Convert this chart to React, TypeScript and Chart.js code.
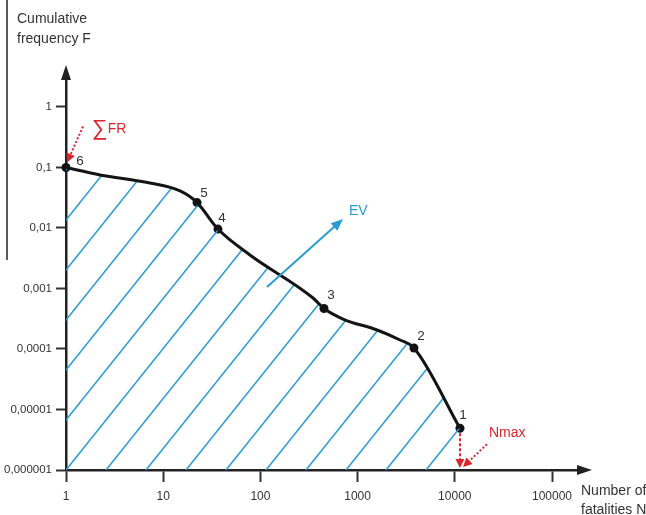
import React, { useEffect, useRef } from "react";
import { Chart, registerables } from "chart.js";

Chart.register(...registerables);

// Curve of the F-N diagram
const curveN = [1, 2.24, 7.3, 14.9, 22.3, 36.6, 78, 348, 451, 707, 1585, 2730, 3800, 11300];
const curveF = [0.1, 0.0752, 0.0554, 0.0409, 0.0263, 0.0096, 0.00358, 0.000697, 0.000466, 0.000313, 0.000206, 0.000141, 0.000104, 0.0000049];

// Numbered points
const pointLabels = ["6", "5", "4", "3", "2", "1"];
const pointN = [1, 22.3, 36.6, 451, 3800, 11300];
const pointF = [0.1, 0.0263, 0.0096, 0.000466, 0.000104, 0.0000049];

// Axis ticks
const xTickValues = [1, 10, 100, 1000, 10000, 100000];
const xTickLabels = ["1", "10", "100", "1000", "10000", "100000"];
const yTickValues = [1, 0.1, 0.01, 0.001, 0.0001, 0.00001, 0.000001];
const yTickLabels = ["1", "0,1", "0,01", "0,001", "0,0001", "0,00001", "0,000001"];

const yTitle = ["Cumulative", "frequency F"];
const xTitle = ["Number of", "fatalities N"];

const FONT = "'Liberation Sans', Arial, sans-serif";
const BLUE = "#2a9bd3";
const RED = "#d8262c";
const DARK = "#333333";

function makeHatch(): CanvasPattern | string {
  const c = document.createElement("canvas");
  c.width = 40;
  c.height = 50;
  const g = c.getContext("2d");
  if (!g) return "transparent";
  g.strokeStyle = BLUE;
  g.lineWidth = 1.5;
  for (let k = -1; k <= 3; k++) {
    const cc = 2.5 + 50 * k;
    g.beginPath();
    g.moveTo(-5, cc + 1.25 * 5);
    g.lineTo(45, cc - 1.25 * 45);
    g.stroke();
  }
  const p = g.createPattern(c, "repeat");
  return p || "transparent";
}

function arrowHead(ctx: CanvasRenderingContext2D, fx: number, fy: number, tx: number, ty: number, len: number, hw: number, color: string) {
  const a = Math.atan2(ty - fy, tx - fx);
  const ux = Math.cos(a), uy = Math.sin(a);
  const bx = tx - ux * len, by = ty - uy * len;
  ctx.save();
  ctx.fillStyle = color;
  ctx.beginPath();
  ctx.moveTo(tx, ty);
  ctx.lineTo(bx - uy * hw, by + ux * hw);
  ctx.lineTo(bx + uy * hw, by - ux * hw);
  ctx.closePath();
  ctx.fill();
  ctx.restore();
}

function arrow(ctx: CanvasRenderingContext2D, fx: number, fy: number, tx: number, ty: number, color: string, width: number, dash: number[], len: number, hw: number) {
  const a = Math.atan2(ty - fy, tx - fx);
  const ex = tx - Math.cos(a) * (len - 1);
  const ey = ty - Math.sin(a) * (len - 1);
  ctx.save();
  ctx.strokeStyle = color;
  ctx.lineWidth = width;
  ctx.setLineDash(dash);
  ctx.beginPath();
  ctx.moveTo(fx, fy);
  ctx.lineTo(ex, ey);
  ctx.stroke();
  ctx.restore();
  arrowHead(ctx, fx, fy, tx, ty, len, hw, color);
}

const annotations = {
  id: "fnAnnotations",
  afterDraw(chart: any) {
    const ctx: CanvasRenderingContext2D = chart.ctx;
    const xs = chart.scales.x;
    const ys = chart.scales.y;
    const area = chart.chartArea;

    // axis arrows
    arrowHead(ctx, area.left, area.bottom, area.left, area.top - 13, 15, 5, "#222");
    arrowHead(ctx, area.left, area.bottom, area.right + 12, area.bottom, 15, 5, "#222");

    // stray frame line at left
    ctx.save();
    ctx.strokeStyle = "#222";
    ctx.lineWidth = 1.5;
    ctx.beginPath();
    ctx.moveTo(7, 0);
    ctx.lineTo(7, 260);
    ctx.stroke();
    ctx.restore();

    // axis titles
    ctx.save();
    ctx.fillStyle = DARK;
    ctx.font = `14px ${FONT}`;
    ctx.textAlign = "left";
    ctx.textBaseline = "alphabetic";
    ctx.fillText(yTitle[0], 17, 23);
    ctx.fillText(yTitle[1], 17, 43);
    ctx.fillText(xTitle[0], 581, 495);
    ctx.fillText(xTitle[1], 581, 514);
    ctx.restore();

    // point labels
    const offs = [[14, -6], [7, -9], [4, -11], [7, -13], [7, -12], [3, -13]];
    ctx.save();
    ctx.fillStyle = DARK;
    ctx.font = `13.5px ${FONT}`;
    ctx.textAlign = "center";
    ctx.textBaseline = "middle";
    pointLabels.forEach((lab, i) => {
      const px = xs.getPixelForValue(pointN[i]);
      const py = ys.getPixelForValue(pointF[i]);
      ctx.fillText(lab, px + offs[i][0], py + offs[i][1]);
    });
    ctx.restore();

    // ΣFR annotation
    const p6x = xs.getPixelForValue(pointN[0]);
    const p6y = ys.getPixelForValue(pointF[0]);
    arrow(ctx, p6x + 17, p6y - 41, p6x + 1, p6y - 5, RED, 2, [2, 2], 9, 4.5);
    ctx.save();
    ctx.fillStyle = RED;
    ctx.textAlign = "left";
    ctx.textBaseline = "alphabetic";
    ctx.font = `22px ${FONT}`;
    const sig = "\u2211";
    ctx.fillText(sig, p6x + 26, p6y - 32);
    const sw = ctx.measureText(sig).width;
    ctx.font = `14px ${FONT}`;
    ctx.fillText("FR", p6x + 26 + sw, p6y - 34);
    ctx.restore();

    // EV arrow
    arrow(ctx, 267, 287, 343, 219, BLUE, 2, [], 12, 5);
    ctx.save();
    ctx.fillStyle = BLUE;
    ctx.font = `14px ${FONT}`;
    ctx.textAlign = "left";
    ctx.textBaseline = "middle";
    ctx.fillText("EV", 349, 211);
    ctx.restore();

    // Nmax annotation
    const p1x = xs.getPixelForValue(pointN[5]);
    const p1y = ys.getPixelForValue(pointF[5]);
    arrow(ctx, p1x, p1y + 5, p1x, area.bottom - 2, RED, 2, [3, 2], 9, 4.5);
    arrow(ctx, p1x + 27, p1y + 16, p1x + 3, area.bottom - 3, RED, 2, [2, 2], 9, 4.5);
    ctx.save();
    ctx.fillStyle = RED;
    ctx.font = `14px ${FONT}`;
    ctx.textAlign = "left";
    ctx.textBaseline = "middle";
    ctx.fillText("Nmax", p1x + 29, p1y + 5);
    ctx.restore();
  },
};

export default function App() {
  const ref = useRef<HTMLCanvasElement | null>(null);

  useEffect(() => {
    if (!ref.current) return;
    const hatch = makeHatch();
    const chart = new Chart(ref.current, {
      type: "line",
      data: {
        datasets: [
          {
            data: curveN.map((n, i) => ({ x: n, y: curveF[i] })),
            borderColor: "#141414",
            borderWidth: 3,
            pointRadius: 0,
            cubicInterpolationMode: "monotone",
            fill: "start",
            backgroundColor: hatch as any,
          },
          {
            data: pointN.map((n, i) => ({ x: n, y: pointF[i] })),
            showLine: false,
            pointRadius: 4.5,
            pointBackgroundColor: "#111",
            pointBorderColor: "#111",
            pointBorderWidth: 0,
            clip: false as any,
          },
        ],
      },
      options: {
        responsive: false,
        animation: false,
        events: [],
        layout: { padding: { top: 78, right: 66, left: 0, bottom: 0 } },
        plugins: { legend: { display: false }, tooltip: { enabled: false } },
        scales: {
          x: {
            type: "logarithmic",
            min: 1,
            max: Math.pow(10, 5.288),
            afterBuildTicks: (s: any) => {
              s.ticks = xTickValues.map((v) => ({ value: v }));
            },
            afterFit: (s: any) => {
              s.height = 45;
            },
            ticks: {
              autoSkip: false,
              maxRotation: 0,
              padding: 7,
              color: DARK,
              font: { size: 12, family: FONT },
              callback: (_v: any, i: number) => xTickLabels[i],
            },
            grid: {
              display: true,
              drawOnChartArea: false,
              drawTicks: true,
              tickLength: 12,
              tickColor: "#333",
              tickWidth: 2,
            },
            border: { display: true, color: "#222", width: 2.5 },
          },
          y: {
            type: "logarithmic",
            min: 0.000001,
            max: Math.pow(10, 0.479),
            afterBuildTicks: (s: any) => {
              s.ticks = yTickValues.map((v) => ({ value: v }));
            },
            afterFit: (s: any) => {
              s.width = 66;
            },
            ticks: {
              autoSkip: false,
              padding: 4,
              color: DARK,
              font: { size: 11.5, family: FONT },
              callback: (_v: any, i: number) => yTickLabels[i],
            },
            grid: {
              display: true,
              drawOnChartArea: false,
              drawTicks: true,
              tickLength: 10,
              tickColor: "#333",
              tickWidth: 2,
            },
            border: { display: true, color: "#222", width: 2.5 },
          },
        },
      },
      plugins: [annotations],
    });
    return () => chart.destroy();
  }, []);

  return (
    <div style={{ position: "absolute", left: 0, top: 0, width: 646, height: 515, background: "#fff" }}>
      <canvas ref={ref} width={646} height={515} style={{ display: "block" }} />
    </div>
  );
}
